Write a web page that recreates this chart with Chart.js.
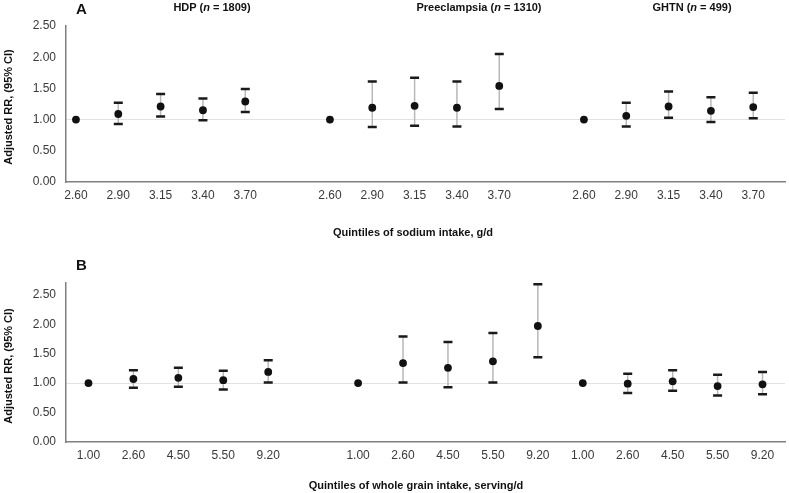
<!DOCTYPE html>
<html>
<head>
<meta charset="utf-8">
<script src="https://cdn.jsdelivr.net/npm/chart.js@4.4.0/dist/chart.umd.min.js"></script>
<style>
  body { margin: 0; background: #fff; font-family: "Liberation Sans", Arial, sans-serif; }
  #wrap { position: relative; width: 789px; height: 493px; overflow: hidden; }
  canvas { position: absolute; left: 0; }
  .grp { position: absolute; font-weight: bold; font-size: 11px; color: #111; white-space: nowrap; transform: translateX(-50%); }
  .panel { position: absolute; font-weight: bold; font-size: 15px; line-height: 15px; color: #111; }
  .ytitle { position: absolute; font-weight: bold; font-size: 11px; color: #111; white-space: nowrap; transform: translate(-50%, -50%) rotate(-90deg); }
</style>
</head>
<body>
<div id="wrap">
  <canvas id="chartA" width="789" height="240" style="top:0"></canvas>
  <canvas id="chartB" width="789" height="248" style="top:245px"></canvas>

  <div class="panel" style="left:76px; top:1px">A</div>
  <div class="grp" style="left:212px; top:1px">HDP (<i>n</i> = 1809)</div>
  <div class="grp" style="left:479px; top:1px">Preeclampsia (<i>n</i> = 1310)</div>
  <div class="grp" style="left:692px; top:1px">GHTN (<i>n</i> = 499)</div>
  <div class="ytitle" style="left:8px; top:107px">Adjusted RR, (95% CI)</div>
  <div class="grp" style="left:413px; top:226px">Quintiles of sodium intake, g/d</div>

  <div class="panel" style="left:76px; top:257px">B</div>
  <div class="ytitle" style="left:8px; top:366px">Adjusted RR, (95% CI)</div>
  <div class="grp" style="left:416px; top:479px">Quintiles of whole grain intake, serving/d</div>
</div>

<script>
// Panel A: quintiles of sodium intake (g/d)
const sodiumLabels = ['2.60', '2.90', '3.15', '3.40', '3.70'];
const hdpSodiumRR = [1.00, 1.09, 1.21, 1.15, 1.29];
const hdpSodiumLo = [null, 0.93, 1.05, 0.99, 1.12];
const hdpSodiumHi = [null, 1.27, 1.41, 1.34, 1.49];
const peSodiumRR = [1.00, 1.19, 1.22, 1.19, 1.54];
const peSodiumLo = [null, 0.88, 0.90, 0.89, 1.17];
const peSodiumHi = [null, 1.61, 1.67, 1.61, 2.05];
const ghtnSodiumRR = [1.00, 1.06, 1.21, 1.14, 1.20];
const ghtnSodiumLo = [null, 0.89, 1.03, 0.96, 1.02];
const ghtnSodiumHi = [null, 1.27, 1.45, 1.36, 1.43];

// Panel B: quintiles of whole grain intake (serving/d)
const grainLabels = ['1.00', '2.60', '4.50', '5.50', '9.20'];
const hdpGrainRR = [1.00, 1.07, 1.09, 1.05, 1.19];
const hdpGrainLo = [null, 0.92, 0.94, 0.89, 1.01];
const hdpGrainHi = [null, 1.22, 1.26, 1.21, 1.39];
const peGrainRR = [1.00, 1.34, 1.26, 1.37, 1.97];
const peGrainLo = [null, 1.01, 0.93, 1.01, 1.44];
const peGrainHi = [null, 1.79, 1.70, 1.85, 2.68];
const ghtnGrainRR = [1.00, 0.99, 1.03, 0.95, 0.98];
const ghtnGrainLo = [null, 0.83, 0.87, 0.79, 0.81];
const ghtnGrainHi = [null, 1.16, 1.22, 1.14, 1.19];

// where each group starts on the x axis (slot index)
const groupStartA = [0, 6, 12];
const groupStartB = [0, 6, 11];

Chart.defaults.font.family = '"Liberation Sans", Arial, sans-serif';
Chart.defaults.font.size = 12;
Chart.defaults.color = '#3a3a3a';

// draws the CI whiskers under the points
const errorBars = {
    id: 'errorBars',
    beforeDatasetsDraw(chart) {
        const ctx = chart.ctx;
        const xs = chart.scales.x, ys = chart.scales.y;
        chart.data.datasets.forEach(ds => {
            ds.data.forEach(p => {
                if (p.lo == null) return;
                const px = xs.getPixelForValue(p.x);
                const top = ys.getPixelForValue(p.hi);
                const bot = ys.getPixelForValue(p.lo);
                ctx.save();
                ctx.strokeStyle = '#b8b8b8';
                ctx.lineWidth = 1.5;
                ctx.beginPath();
                ctx.moveTo(px, top);
                ctx.lineTo(px, bot);
                ctx.stroke();
                ctx.strokeStyle = '#1a1a1a';
                ctx.lineWidth = 2.5;
                ctx.beginPath();
                ctx.moveTo(px - 4.5, top); ctx.lineTo(px + 4.5, top);
                ctx.moveTo(px - 4.5, bot); ctx.lineTo(px + 4.5, bot);
                ctx.stroke();
                ctx.restore();
            });
        });
    }
};

function buildPoints(start, rr, lo, hi) {
    return rr.map((v, i) => ({ x: start + i, y: v, lo: lo[i], hi: hi[i] }));
}

function makeChart(id, opts) {
    const tickLabels = {};
    const slots = [];
    opts.starts.forEach(s => {
        opts.labels.forEach((l, i) => {
            tickLabels[s + i] = l;
            slots.push(s + i);
        });
    });

    const ctx = document.getElementById(id).getContext('2d');
    return new Chart(ctx, {
        type: 'scatter',
        data: {
            datasets: opts.series.map(s => ({
                data: s,
                backgroundColor: '#111',
                borderWidth: 0,
                pointRadius: 3.9
            }))
        },
        options: {
            responsive: false,
            animation: false,
            layout: { padding: { top: opts.padTop, right: opts.padRight, left: 0, bottom: 0 } },
            plugins: { legend: { display: false }, tooltip: { enabled: false } },
            scales: {
                x: {
                    type: 'linear',
                    min: opts.xMin,
                    max: opts.xMax,
                    afterBuildTicks: axis => { axis.ticks = slots.map(v => ({ value: v })); },
                    afterFit: axis => { axis.height = opts.xHeight; },
                    ticks: {
                        autoSkip: false,
                        maxRotation: 0,
                        padding: 6,
                        callback: v => tickLabels[v] || ''
                    },
                    grid: { display: false, drawTicks: false },
                    border: { display: true, color: '#808080', width: 1.5 }
                },
                y: {
                    min: 0,
                    max: opts.yMax,
                    afterFit: axis => { axis.width = 66; },
                    ticks: {
                        stepSize: 0.5,
                        includeBounds: false,
                        padding: 10,
                        callback: v => v.toFixed(2)
                    },
                    grid: {
                        drawTicks: false,
                        color: c => (c.tick && c.tick.value === 1) ? '#e2e2e2' : 'rgba(0,0,0,0)',
                        lineWidth: 1
                    },
                    border: { display: true, color: '#808080', width: 1.5 }
                }
            }
        },
        plugins: [errorBars]
    });
}

makeChart('chartA', {
    labels: sodiumLabels,
    starts: groupStartA,
    series: [
        buildPoints(groupStartA[0], hdpSodiumRR, hdpSodiumLo, hdpSodiumHi),
        buildPoints(groupStartA[1], peSodiumRR, peSodiumLo, peSodiumHi),
        buildPoints(groupStartA[2], ghtnSodiumRR, ghtnSodiumLo, ghtnSodiumHi)
    ],
    xMin: -0.235, xMax: 16.75,
    yMax: 2.5,
    padTop: 26, padRight: 1,
    xHeight: 58
});

makeChart('chartB', {
    labels: grainLabels,
    starts: groupStartB,
    series: [
        buildPoints(groupStartB[0], hdpGrainRR, hdpGrainLo, hdpGrainHi),
        buildPoints(groupStartB[1], peGrainRR, peGrainLo, peGrainHi),
        buildPoints(groupStartB[2], ghtnGrainRR, ghtnGrainLo, ghtnGrainHi)
    ],
    xMin: -0.5, xMax: 15.5,
    yMax: 2.7,
    padTop: 38, padRight: 3,
    xHeight: 51
});
</script>
</body>
</html>
